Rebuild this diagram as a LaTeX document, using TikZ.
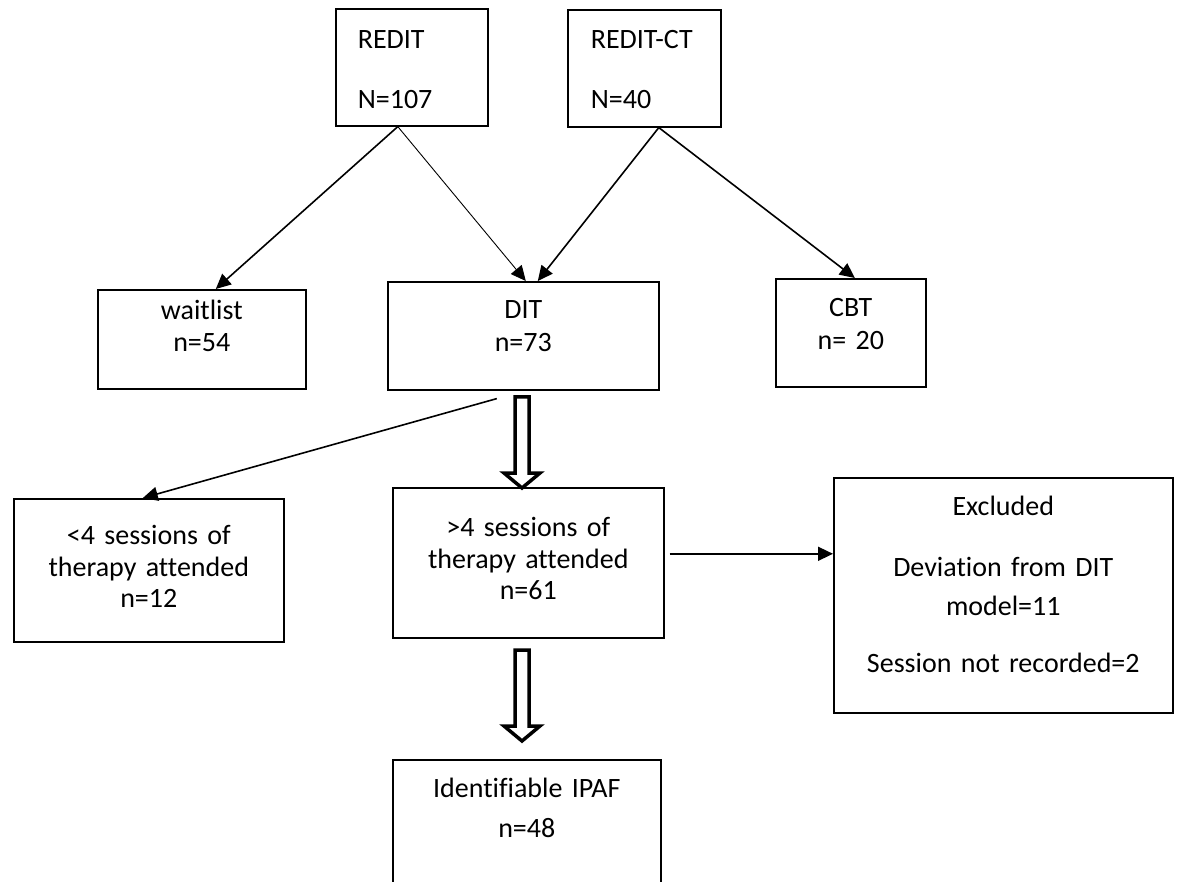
\documentclass[tikz,border=0pt]{standalone}
\usepackage{fontspec}
\setmainfont{Carlito}[Ligatures=CommonOff]
\usetikzlibrary{arrows.meta, positioning}

\begin{document}
\begin{tikzpicture}[x=1pt, y=-1pt,
  box/.style={rectangle, draw, line width=1.6pt, inner sep=0pt, anchor=north west,
              align=center, font=\fontsize{28}{32}\selectfont},
  arrow/.style={-{Triangle[length=15pt, width=14pt]}, line width=1.6pt},
  thinarrow/.style={arrow, line width=0.9pt},
  hollow/.style={draw, fill=white, line width=3.5pt, line join=miter}
]
\useasboundingbox (0,0) rectangle (1178,882);
% top row
\node[box, align=left, inner xsep=22pt, text width=108pt, text height=40pt, text depth=77pt]
  (redit) at (335,8) {REDIT\\[28pt]N=107};
\node[box, align=left, inner xsep=23pt, text width=107pt, text height=39pt, text depth=78pt]
  (reditct) at (567,9) {REDIT-CT\\[28pt]N=40};
% second row
\node[box, text width=208pt, text height=30pt, text depth=69pt] (wait) at (97,289) {waitlist\\n=54};
\node[box, text width=271pt, text height=37pt, text depth=71pt] (dit) at (387,281) {DIT\\[1pt]n=73};
\node[box, text width=150pt, text height=38pt, text depth=70pt] (cbt) at (775,278) {CBT\\[1pt]n= 20};
% third row
\node[box, text width=270pt, text height=46pt, text depth=97pt, font=\fontsize{28}{31.5}\selectfont]
  (less) at (13,498) {<4 sessions of\\therapy attended\\n=12};
\node[box, text width=271pt, text height=49pt, text depth=101pt, font=\fontsize{28}{31.5}\selectfont]
  (more) at (392,487) {>4 sessions of\\therapy attended\\n=61};
\node[box, text width=339pt, text height=38pt, text depth=197pt]
  (excl) at (833,477) {Excluded\\[29pt]Deviation from DIT\\[7pt]model=11\\[25pt]Session not recorded=2};
% bottom
\node[box, text width=268pt, text height=38pt, text depth=110pt] (ipaf) at (392,759) {Identifiable IPAF\\[8pt]n=48};

\draw[arrow] ([xshift=-14pt]redit.south) -- ([xshift=14pt]wait.north);
\draw[thinarrow] ([xshift=-14pt]redit.south) -- ([xshift=2.5pt]dit.north);
\draw[arrow] ([xshift=14.5pt]reditct.south) -- ([xshift=14.5pt]dit.north);
\draw[arrow] ([xshift=14.5pt]reditct.south) -- ([xshift=4pt]cbt.north);
\draw[arrow] ([xshift=-26.5pt, yshift=-8pt]dit.south) -- ([xshift=-6pt]less.north);
\coordinate (exarr) at ([xshift=5pt, yshift=9pt]more.east);
\draw[arrow] (exarr) -- (exarr -| excl.west);

% hollow arrows
\coordinate (down1) at (522,397);
\coordinate (down2) at (522,650);
\foreach \p in {down1, down2}
  \draw[hollow] (\p) ++(-7,0) -- ++(0,76) -- ++(-11,0) -- ++(18,15) -- ++(18,-15)
    -- ++(-11,0) -- ++(0,-76) -- cycle;
\end{tikzpicture}
\end{document}
